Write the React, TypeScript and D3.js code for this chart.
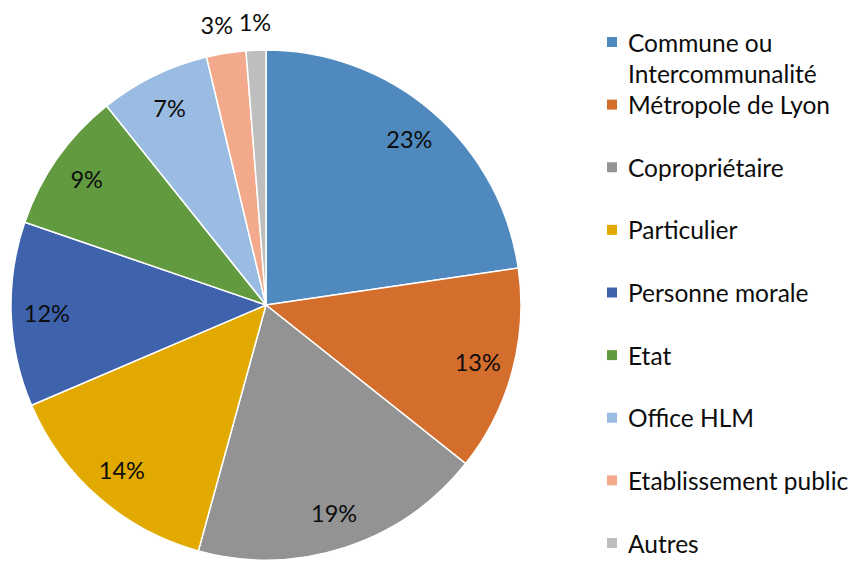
import React from "react";
import * as d3 from "d3";

const categories = [
  "Commune ou Intercommunalité",
  "Métropole de Lyon",
  "Copropriétaire",
  "Particulier",
  "Personne morale",
  "Etat",
  "Office HLM",
  "Etablissement public",
  "Autres",
];
const values = [22.7, 13.0, 18.6, 14.3, 11.7, 9.0, 7.0, 2.5, 1.25];
const labels = ["23%", "13%", "19%", "14%", "12%", "9%", "7%", "3%", "1%"];
const colors = [
  "#4F89BD",
  "#D46E2C",
  "#939393",
  "#E2AA00",
  "#3E62AC",
  "#629B3F",
  "#9ABCE2",
  "#F2A98C",
  "#BEBEBE",
];
const legendLines = [
  ["Commune ou", "Intercommunalité"],
  ["Métropole de Lyon"],
  ["Copropriétaire"],
  ["Particulier"],
  ["Personne morale"],
  ["Etat"],
  ["Office HLM"],
  ["Etablissement public"],
  ["Autres"],
];

export default function App() {
  const W = 856, H = 562;
  const cx = 266, cy = 305, r = 255;
  const pie = d3.pie<number>().sort(null).value((d) => d);
  const arcs = pie(values);
  const arc = d3.arc<d3.PieArcDatum<number>>().innerRadius(0).outerRadius(r);
  const font = "Lato, 'Open Sans', sans-serif";
  const legendY = d3.scalePoint<number>().domain(d3.range(categories.length)).range([42, 543]);
  return (
    <svg width={W} height={H} style={{ position: "absolute", left: 0, top: 0 }}>
      <rect width={W} height={H} fill="#fff" />
      <g transform={`translate(${cx},${cy})`}>
        {arcs.map((a, i) => (
          <path key={i} d={arc(a) || ""} fill={colors[i]} stroke="#fff" strokeWidth={1.5} />
        ))}
        {arcs.map((a, i) => {
          const mid = (a.startAngle + a.endAngle) / 2;
          const lr = values[i] < 5 ? r + 28 : r * 0.86;
          const x = Math.sin(mid) * lr - (values[i] < 2 ? 0 : values[i] < 5 ? 5 : 0);
          const y = -Math.cos(mid) * lr;
          return (
            <text key={i} x={x} y={y} textAnchor="middle" dominantBaseline="central"
              fontFamily={font} fontSize={23.5} fill="#0d0d0d">
              {labels[i]}
            </text>
          );
        })}
      </g>
      <g>
        {categories.map((c, i) => {
          const y0 = legendY(i)!;
          return (
            <g key={c}>
              <rect x={607} y={y0 - 5} width={10} height={10} fill={colors[i]} />
              {legendLines[i].map((ln, j) => (
                <text key={j} x={628} y={y0 + j * 31} dominantBaseline="central"
                  fontFamily={font} fontSize={24.5} fill="#0d0d0d">
                  {ln}
                </text>
              ))}
            </g>
          );
        })}
      </g>
    </svg>
  );
}
